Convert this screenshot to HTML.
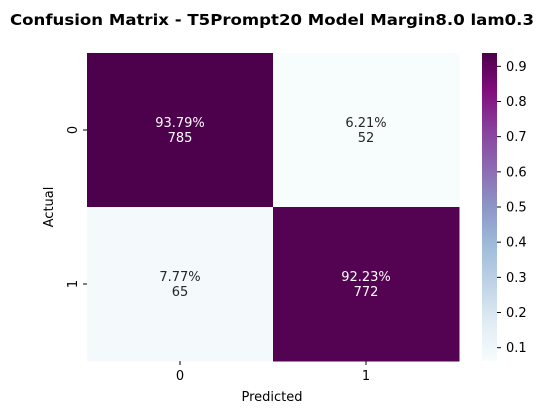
<!DOCTYPE html>
<html><head><meta charset="utf-8"><style>
body{margin:0;background:#fff;}
svg{font-family:"DejaVu Sans","Liberation Sans",sans-serif;}
</style></head><body>
<svg id="chart" width="545" height="414" viewBox="0 0 545 414">
<defs>
<linearGradient id="bupu" x1="0" y1="1" x2="0" y2="0">
<stop offset="0" stop-color="#f7fcfd"/><stop offset="0.125" stop-color="#e0ecf4"/><stop offset="0.25" stop-color="#bfd3e6"/><stop offset="0.375" stop-color="#9ebcda"/><stop offset="0.5" stop-color="#8c96c6"/><stop offset="0.625" stop-color="#8c6bb1"/><stop offset="0.75" stop-color="#88419d"/><stop offset="0.875" stop-color="#810f7c"/><stop offset="1" stop-color="#4d004b"/>
</linearGradient>
</defs>
<text x="272" y="25" text-anchor="middle" font-size="15" font-weight="bold" fill="#000" textLength="524" lengthAdjust="spacingAndGlyphs">Confusion Matrix - T5Prompt20 Model Margin8.0 lam0.3</text>
<g id="cells"></g>
<g id="axes"></g>
<rect x="482" y="53" width="15" height="308" fill="url(#bupu)"/>
<g id="cbticks"></g>
<text x="272" y="401" text-anchor="middle" font-size="13" fill="#000">Predicted</text>
<text transform="translate(53,207) rotate(-90)" text-anchor="middle" font-size="13" fill="#000">Actual</text>
</svg>
<script>
const classLabels = ["0","1"];
const pcts = [[93.79, 6.21],[7.77, 92.23]];
const counts = [[785, 52],[65, 772]];
const cbTicks = [0.1,0.2,0.3,0.4,0.5,0.6,0.7,0.8,0.9];
const ns="http://www.w3.org/2000/svg";
const X0=87,X1=459,Y0=53,Y1=361;
const vmin=0.0621,vmax=0.9379;
const stops=["#f7fcfd","#e0ecf4","#bfd3e6","#9ebcda","#8c96c6","#8c6bb1","#88419d","#810f7c","#4d004b"];
function hex(h){return [1,3,5].map(i=>parseInt(h.substr(i,2),16));}
function cmap(v){let t=Math.max(0,Math.min(1,(v-vmin)/(vmax-vmin)))*(stops.length-1);let i=Math.min(Math.floor(t),stops.length-2),f=t-i;const a=hex(stops[i]),b=hex(stops[i+1]);return "rgb("+a.map((x,k)=>Math.round(x+(b[k]-x)*f)).join(",")+")";}
function mk(tag,attrs,parent){const e=document.createElementNS(ns,tag);for(const k in attrs)e.setAttribute(k,attrs[k]);parent.appendChild(e);return e;}
const n=classLabels.length,cw=(X1-X0)/n,ch=(Y1-Y0)/n;
const cells=document.getElementById('cells'),axes=document.getElementById('axes'),cb=document.getElementById('cbticks');
for(let r=0;r<n;r++)for(let c=0;c<n;c++){
 const v=pcts[r][c]/100;
 const rect=mk('rect',{x:X0+c*cw,y:Y0+r*ch,width:cw+0.5,height:ch+0.5,fill:cmap(v)},cells);
 
 
 const col=v>0.5?"#fff":"#262626";
 const t1=mk('text',{x:X0+(c+0.5)*cw,y:Y0+(r+0.5)*ch-3,'text-anchor':'middle','font-size':13,fill:col},cells);
 t1.textContent=pcts[r][c].toFixed(2)+"%";
 
 
 const t2=mk('text',{x:X0+(c+0.5)*cw,y:Y0+(r+0.5)*ch+12,'text-anchor':'middle','font-size':13,fill:col},cells);
 t2.textContent=counts[r][c];
 
 
}
classLabels.forEach((l,i)=>{
 const x=X0+(i+0.5)*cw;
 mk('line',{x1:x,y1:Y1,x2:x,y2:Y1+4,stroke:"#000"},axes);
 const t=mk('text',{x:x,y:Y1+19,'text-anchor':'middle','font-size':13},axes);t.textContent=l;
 
 
 const y=Y0+(i+0.5)*ch;
 mk('line',{x1:X0-4,y1:y,x2:X0,y2:y,stroke:"#000"},axes);
 const t2=mk('text',{transform:"translate("+(X0-10)+","+y+") rotate(-90)",'text-anchor':'middle','font-size':13},axes);t2.textContent=l;
 
 
});
cbTicks.forEach(v=>{
 const y=Y1-(v-vmin)/(vmax-vmin)*(Y1-Y0);
 mk('line',{x1:497,y1:y,x2:501,y2:y,stroke:"#000"},cb);
 const t=mk('text',{x:506,y:y+4.5,'font-size':13},cb);t.textContent=v.toFixed(1);
 
 
});
</script>
</body></html>
